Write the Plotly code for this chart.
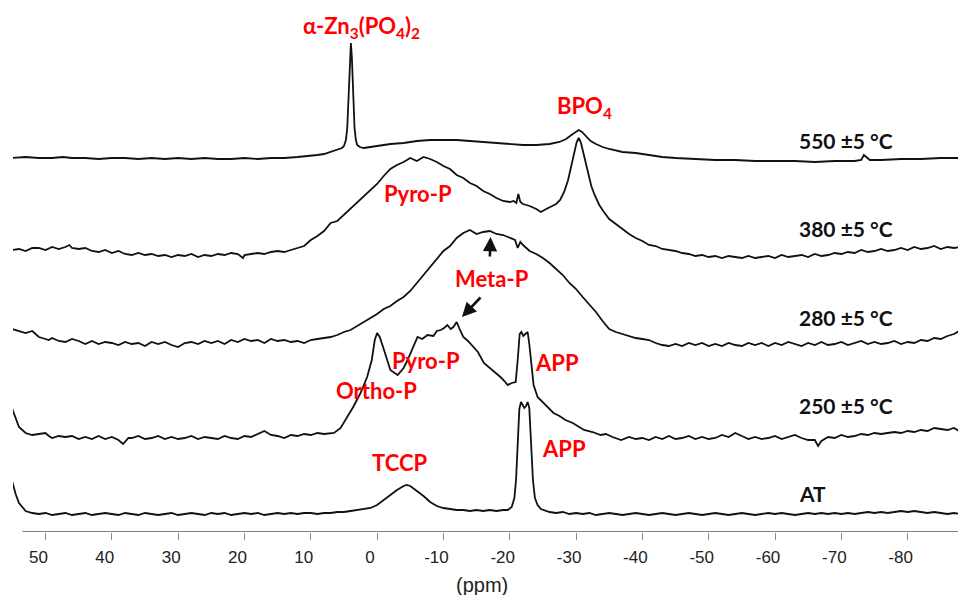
import plotly.graph_objects as go

# ---------------- data (ppm, intensity above own baseline) ----------------
spectrum_names = ["AT", "250 ±5 °C", "280 ±5 °C", "380 ±5 °C", "550 ±5 °C"]
stack_offsets = [18, 94, 189, 280, 374]

at_points = [
    (55, 32), (54.5, 20), (54, 11), (53, 3), (52, 1), (51, 0), (50, 1), (49, -1), (48, 0), (47, 1),
    (46, -1), (45, 0), (44, 1), (43, -1), (42, 0), (41, 1), (40, 0), (39, -1), (38, 1), (37, 0),
    (36, -1), (35, 1), (34, 0), (33, -1), (32, 0), (31, 1), (30, -1), (29, 0), (28, 1), (27, 0),
    (26, -1), (25, 1), (24, 0), (23, 1), (22, -1), (21, 0), (20, 1), (19, 0), (18, 1), (17, -1),
    (16, 0), (15, 1), (14, 0), (13, 1), (12, 0), (11, 1), (10, 1), (9, 0), (8, 1), (7, 1),
    (6, 2), (5, 2), (4, 3), (3, 4), (2, 5), (1, 6), (0, 9), (-1, 14), (-2, 19), (-3, 24),
    (-4, 28), (-4.5, 29), (-5, 28), (-6, 23), (-7, 18), (-8, 12), (-9, 8), (-10, 6), (-11, 5), (-12, 4),
    (-13, 4), (-14, 3), (-15, 4), (-16, 3), (-17, 4), (-18, 3), (-19, 4), (-19.7, 4), (-20.3, 7), (-20.7, 16),
    (-20.95, 34), (-21.2, 75), (-21.45, 105), (-21.7, 112), (-21.95, 109), (-22.2, 106), (-22.45, 108), (-22.7, 112), (-22.95, 106), (-23.2, 75),
    (-23.5, 34), (-23.8, 16), (-24.2, 9), (-24.7, 5), (-25.5, 3), (-26, 2), (-27, 1), (-28, 2), (-29, 0), (-30, 1),
    (-31, 0), (-32, 1), (-33, -1), (-34, 0), (-35, 1), (-36, 0), (-37, -1), (-38, 0), (-39, 1), (-40, 0),
    (-41, -1), (-42, 0), (-43, 1), (-44, 0), (-45, -1), (-46, 0), (-47, 1), (-48, 0), (-49, -1), (-50, 0),
    (-51, 1), (-52, 0), (-53, -1), (-54, 0), (-55, 1), (-56, 0), (-57, -1), (-58, 0), (-59, 1), (-60, 0),
    (-61, 1), (-62, 0), (-63, -1), (-64, 0), (-65, 1), (-66, 0), (-67, 1), (-68, 0), (-69, 1), (-70, 0),
    (-71, 1), (-72, 0), (-73, 1), (-74, 2), (-75, 1), (-76, 2), (-77, 1), (-78, 2), (-79, 3), (-80, 2),
    (-81, 3), (-82, 2), (-83, 1), (-84, 2), (-85, 1), (-86, 0), (-87, 1), (-88, 0), (-88.8, 0),
]

t250_points = [
    (55, 29), (54.5, 20), (54, 11), (53, 5), (52, 3), (51, 4), (50, 5), (49.5, 2), (49, 0), (48, 2),
    (47, 1), (46, 2), (45, -1), (44, 1), (43, -1), (42, 2), (41, -1), (40, 1), (39, -2), (38.3, -6),
    (37.5, 0), (37, 0), (36, 2), (35, -1), (34, 0), (33, 2), (32, -1), (31, 1), (30, -1), (29, 0),
    (28, 2), (27, -1), (26, 1), (25, 0), (24, -1), (23, 2), (22, 0), (21, -1), (20, 2), (19, 1),
    (18, 4), (17, 7), (16, 3), (15, 2), (14, 0), (13, 3), (12, 2), (11, 4), (10, 3), (9, 5),
    (8, 4), (7, 5), (6.5, 5), (5.5, 10), (4.5, 21), (3.6, 31), (2.5, 45), (1.5, 61), (0.8, 78), (0.35, 98),
    (0, 105), (-0.4, 101), (-0.9, 91), (-2.0, 68), (-3.1, 63), (-4.0, 70), (-4.6, 78), (-5.3, 88), (-6.1, 101), (-6.8, 99),
    (-7.6, 103), (-8.5, 102), (-9.0, 107), (-9.6, 108), (-10.1, 110), (-10.6, 113), (-11.1, 109), (-11.5, 111), (-12.0, 116), (-12.5, 108),
    (-13.0, 101), (-13.7, 97), (-14.5, 91), (-15.2, 86), (-16.1, 75), (-17.0, 70), (-17.8, 66), (-18.6, 61), (-19.2, 57), (-19.7, 53),
    (-20.3, 55), (-20.9, 56), (-21.2, 78), (-21.5, 104), (-21.75, 106), (-22.05, 102), (-22.35, 104), (-22.7, 106), (-22.95, 94), (-23.2, 75),
    (-23.6, 53), (-24.2, 41), (-25.4, 33), (-26.6, 25), (-27.5, 22), (-28.4, 18), (-29.5, 15), (-30.3, 12), (-31.2, 8), (-32.5, 6),
    (-33.7, 3), (-34.5, 4), (-35.5, 1), (-36.8, -2), (-38, 1), (-39, -1), (-40, 0), (-41, -2), (-42, 1), (-43, -1),
    (-44, 2), (-45, -1), (-46, 0), (-47, 2), (-48, -1), (-49, 1), (-50, -1), (-51, 0), (-52, 3), (-53, 1),
    (-54, 5), (-55, 2), (-56, -1), (-57, 1), (-58, -1), (-59, 0), (-60, 2), (-61, -1), (-62, 1), (-63, 3),
    (-64, 0), (-65, -2), (-66, -2), (-66.5, -8), (-67, -3), (-68, 1), (-69, 0), (-70, 3), (-71, 1), (-72, 2),
    (-73, 4), (-74, 3), (-75, 5), (-76, 4), (-77, 5), (-78, 6), (-79, 5), (-80, 7), (-81, 6), (-82, 8),
    (-83, 7), (-84, 10), (-85, 9), (-86, 8), (-87, 10), (-88, 6), (-88.8, 5),
]

t280_points = [
    (55, 14), (54.5, 13), (54, 12), (53, 10), (52, 12), (51, 6), (50, 4), (49.5, 3), (49, 5), (48, 2),
    (47, 1), (46, 4), (45, 2), (44, -1), (43, 2), (42, -1), (41, 1), (40, 0), (39, -2), (38, 1),
    (37, -1), (36, 0), (35, -3), (34, 1), (33, -1), (32, 1), (31, -2), (30, -4), (29, 0), (28, 1),
    (27, -1), (26, 2), (25, 0), (24, 2), (23, -1), (22, 3), (21, 1), (20, 4), (19, 2), (18, 3),
    (17, 0), (16, 4), (15, 2), (14, 3), (13, 1), (12, 2), (11, 0), (10, 3), (9, 4), (8, 5),
    (7, 6), (6, 8), (5, 11), (4, 13), (3, 17), (2, 21), (1, 25), (0, 29), (-1, 34), (-2, 37),
    (-3, 42), (-4, 46), (-5, 52), (-6, 60), (-7, 67), (-8, 76), (-9, 84), (-10, 92), (-11, 97), (-12, 105),
    (-13, 110), (-14, 113), (-15, 109), (-16, 111), (-17, 112), (-18, 109), (-19, 108), (-20, 105), (-20.8, 103), (-21.2, 95),
    (-21.6, 101), (-22, 98), (-23, 92), (-24, 89), (-25, 85), (-26, 80), (-27, 74), (-28, 68), (-29, 60), (-30, 54),
    (-31, 46), (-32, 39), (-33, 31), (-34, 22), (-35, 14), (-36, 11), (-37, 9), (-38, 7), (-39, 5), (-40, 4),
    (-41, 3), (-42, 0), (-43, -2), (-44, -3), (-45, -1), (-46, -3), (-47, 0), (-48, -2), (-49, 0), (-50, -3),
    (-51, -1), (-52, -3), (-53, 0), (-54, -2), (-55, -3), (-56, 0), (-57, -2), (-58, 0), (-59, -3), (-60, 0),
    (-61, -2), (-62, 1), (-63, -1), (-64, -3), (-65, 0), (-66, -2), (-67, 1), (-68, -2), (-69, -1), (-70, 1),
    (-71, -2), (-72, 0), (-73, 2), (-74, -1), (-75, 1), (-76, -1), (-77, 0), (-78, 2), (-79, -1), (-80, 1),
    (-81, 0), (-82, 3), (-83, 2), (-84, 5), (-85, 4), (-86, 7), (-87, 9), (-88, 13), (-88.8, 16),
]

t380_points = [
    (55, 2), (54, 3), (53, 1), (52, 4), (51, 4), (50, 2), (49, 5), (48, 3), (47, 5), (46.4, 7),
    (46, 4), (45, 3), (44, 4), (43, 1), (42, 0), (41, 2), (40, -1), (39, 1), (38, -2), (37, -3),
    (36, -1), (35, -3), (34, -2), (33, -4), (32, -3), (31, -5), (30, -3), (29, -4), (28, -2), (27, -5),
    (26, -3), (25, -4), (24, -2), (23, -3), (22, -1), (21, -2), (20.2, -6), (20, -3), (19, -2), (18, -1),
    (17, -2), (16, 0), (15, 1), (14, 0), (13, 2), (12, 4), (11, 6), (10, 12), (9, 16), (8, 21),
    (7, 29), (6, 31), (5, 37), (4, 44), (3, 49), (2, 55), (1, 61), (0, 68), (-1, 76), (-2, 83),
    (-3, 87), (-4, 90), (-5, 94), (-6, 91), (-7, 95), (-8, 93), (-9, 90), (-10, 86), (-11, 83), (-12, 77),
    (-13, 74), (-14, 69), (-15, 66), (-16, 61), (-17, 58), (-18, 54), (-19, 51), (-20, 50), (-20.6, 51), (-21.0, 49),
    (-21.3, 58), (-21.6, 50), (-22, 48), (-23, 46), (-24, 43), (-24.7, 40), (-25.5, 43), (-26.2, 45), (-27, 48), (-27.6, 52),
    (-28.2, 60), (-28.8, 72), (-29.3, 87), (-29.7, 100), (-30.1, 110), (-30.4, 114), (-30.7, 110), (-31.0, 102), (-31.4, 90), (-31.8, 78),
    (-32.3, 66), (-32.8, 57), (-33.5, 47), (-34.2, 40), (-35, 33), (-36, 28), (-37, 23), (-38, 18), (-39, 14), (-40, 11),
    (-41, 7), (-42, 6), (-43, 3), (-44, 2), (-45, 1), (-46, -1), (-47, -2), (-48, -4), (-49, -3), (-50, -5),
    (-51, -4), (-52, -6), (-53, -4), (-54, -5), (-55, -6), (-56, -4), (-57, -6), (-58, -5), (-59, -4), (-60, -6),
    (-61, -3), (-62, -5), (-63, -4), (-64, -3), (-65, -5), (-66, -2), (-67, -4), (-68, -3), (-69, -1), (-70, -2),
    (-71, 0), (-72, -1), (-73, 2), (-74, 0), (-75, 1), (-76, 3), (-77, 1), (-78, 2), (-79, 4), (-80, 2),
    (-81, 5), (-82, 3), (-83, 4), (-84, 6), (-85, 3), (-86, 5), (-87, 4), (-88, 5), (-88.8, 5),
]

t550_points = [
    (55, 0), (53, 1), (51, 0), (49, 0), (47.4, 1), (46, 0), (44, 0), (42, -1), (40, 0), (38, 0),
    (36, -1), (34, 0), (32, -1), (30, 0), (28, -1), (26, 0), (24, -1), (22, -1), (20, 0), (18, -1),
    (16, 0), (14, 0), (12, 1), (10, 2), (9, 3), (8, 4), (7, 6), (6, 8), (5.3, 10), (5.0, 12),
    (4.7, 18), (4.5, 30), (4.3, 60), (4.1, 95), (3.95, 115), (3.8, 100), (3.6, 60), (3.4, 30), (3.2, 18), (3.0, 13),
    (2.6, 11), (2.0, 10), (1.0, 11), (0, 12), (-2, 14), (-4, 15), (-6, 17), (-8, 18), (-10, 18), (-12, 18),
    (-14, 17), (-16, 16), (-18, 15), (-20, 14), (-22, 13), (-24, 13), (-26, 14), (-27.5, 16), (-28.5, 19), (-29.3, 23),
    (-29.9, 26), (-30.4, 28), (-30.9, 26), (-31.5, 22), (-32.2, 17), (-33, 14), (-34, 11), (-35, 9), (-37, 6), (-39, 5),
    (-41, 3), (-43, 1), (-45, 0), (-48, -1), (-51, -2), (-54, -2), (-57, -3), (-60, -3), (-63, -3), (-66, -4),
    (-69, -3), (-72, -3), (-73.0, -2), (-73.4, 3), (-73.8, 1), (-74.3, -2), (-76, -2), (-79, -1), (-82, -1), (-85, 0),
    (-88.8, 0),
]

all_points = [at_points, t250_points, t280_points, t380_points, t550_points]

x_tick_values = [50, 40, 30, 20, 10, 0, -10, -20, -30, -40, -50, -60, -70, -80]
x_tick_labels = ["50", "40", "30", "20", "10", "0", "-10", "-20", "-30", "-40", "-50", "-60", "-70", "-80"]

# peak labels: (text, ppm, height)
peak_labels = [
    ("α-Zn<sub>3</sub>(PO<sub>4</sub>)<sub>2</sub>", 2.4, 505),
    ("BPO<sub>4</sub>", -31.2, 425),
    ("Pyro-P", -6.1, 339),
    ("Meta-P", -17.4, 254),
    ("Pyro-P", -7.3, 172),
    ("APP", -27.1, 170),
    ("Ortho-P", 0.05, 142),
    ("TCCP", -3.4, 70),
    ("APP", -28.2, 84),
]
temp_label_heights = [39, 127, 215, 304, 392]

# arrows: (tip ppm, tip y, tail ppm, tail y)
arrows = [(-17.1, 295, -17.0, 274), (-12.8, 215, -15.8, 236)]

# ---------------- figure ----------------
fig = go.Figure()
for name, pts, off in zip(spectrum_names, all_points, stack_offsets):
    fig.add_trace(go.Scatter(
        x=[p[0] for p in pts], y=[p[1] + off for p in pts],
        mode="lines", name=name, line=dict(color="#111111", width=1.8),
        showlegend=False, hoverinfo="skip"))

red_font = dict(family="Lato, Open Sans, sans-serif", size=22, color="#ff0000")
for text, x, y in peak_labels:
    fig.add_annotation(x=x, y=y, xref="x", yref="y", text="<b>" + text + "</b>",
                       showarrow=False, font=red_font, xanchor="center", yanchor="middle")

black_font = dict(family="Lato, Open Sans, sans-serif", size=21, color="#111111")
for name, y in zip(spectrum_names, temp_label_heights):
    fig.add_annotation(x=-63.3, y=y, xref="x", yref="y", text="<b>" + name + "</b>",
                       showarrow=False, font=black_font, xanchor="left", yanchor="middle")

for tx, ty, sx, sy in arrows:
    fig.add_annotation(x=tx, y=ty, ax=sx, ay=sy, xref="x", yref="y", axref="x", ayref="y",
                       text="", showarrow=True, arrowhead=2, arrowsize=1.1, arrowwidth=2.6,
                       arrowcolor="#111111")

fig.add_annotation(x=-15.8, y=-0.101, xref="x", yref="paper", text="(ppm)", showarrow=False,
                   font=dict(family="Liberation Sans, Arial, sans-serif", size=20, color="#222222"),
                   xanchor="center", yanchor="middle")

# axis line (starts a little right of the spectra)
fig.add_shape(type="line", xref="x", yref="y", x0=53.5, x1=-88.8, y0=0, y1=0,
              line=dict(color="#555555", width=1.5))

fig.update_xaxes(range=[54.9, -88.8], tickmode="array", tickvals=x_tick_values, ticktext=x_tick_labels,
                 ticks="outside", ticklen=7, tickwidth=1.3, tickcolor="#888888",
                 showline=False, showgrid=False, zeroline=False,
                 tickfont=dict(family="Liberation Sans, Arial, sans-serif", size=17, color="#222222"),
                 ticklabelshift=7, ticklabelstandoff=3)
fig.update_yaxes(range=[0, 524], visible=False, showgrid=False, zeroline=False)

# the page adds an 8 px body margin, so the figure is sized to sit inside the 966x595 window
fig.update_layout(width=958, height=587, margin=dict(l=5, r=0, t=0, b=63),
                  paper_bgcolor="white", plot_bgcolor="white")

fig.write_html("out.html")
